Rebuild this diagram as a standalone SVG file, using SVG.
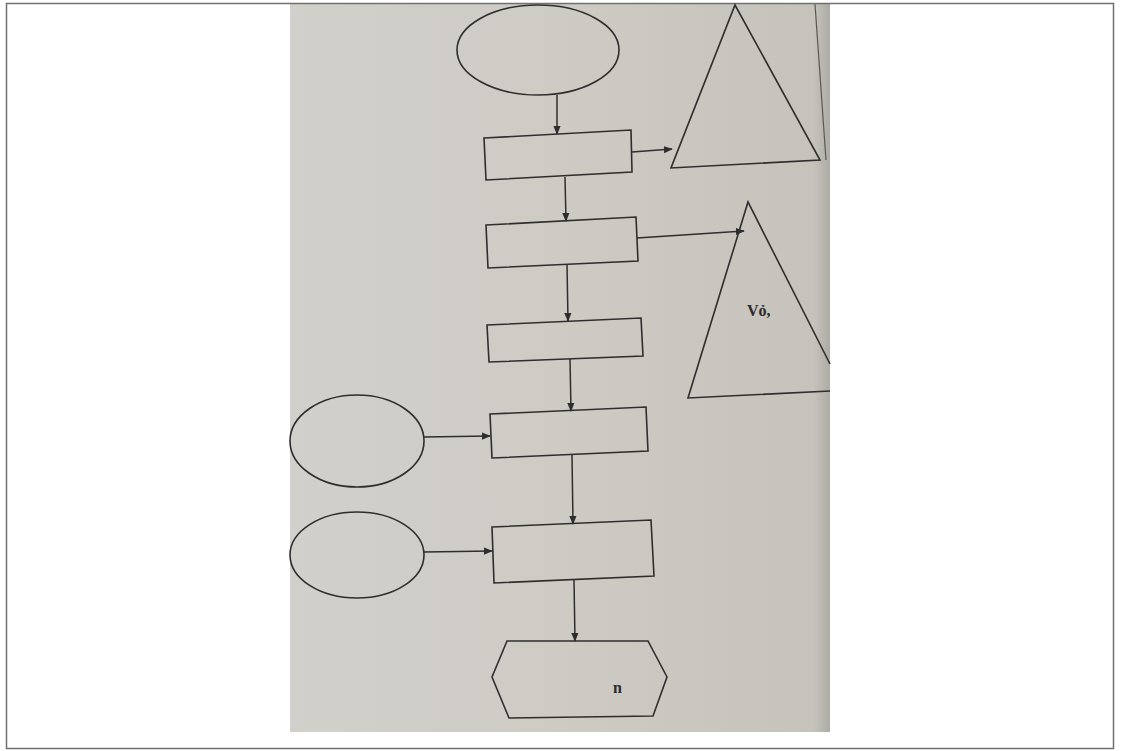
<svg xmlns="http://www.w3.org/2000/svg" width="1122" height="751" viewBox="0 0 1122 751">
<defs>
<linearGradient id="paper" x1="0" y1="0" x2="1" y2="0">
<stop offset="0" stop-color="#d2d0cb"/>
<stop offset="0.5" stop-color="#cecbc5"/>
<stop offset="0.97" stop-color="#c6c2bc"/>
<stop offset="1" stop-color="#aeaba4"/>
</linearGradient>
<marker id="ah" viewBox="0 0 10 10" refX="9" refY="5" markerWidth="9" markerHeight="9" orient="auto" markerUnits="userSpaceOnUse">
<path d="M0,1 L10,5 L0,9 Z" fill="#2e2e2e"/>
</marker>
<style>
.sh{fill:none;stroke:#2e2e2e;stroke-width:1.6}
.cn{fill:none;stroke:#2e2e2e;stroke-width:1.5;marker-end:url(#ah)}
.lb{font-family:"Liberation Serif",serif;font-weight:bold;font-size:16px;fill:#2a2a2a}
</style>
</defs>
<rect x="0" y="0" width="1122" height="751" fill="#ffffff"/>
<rect x="290" y="4" width="540" height="728" fill="url(#paper)"/>
<line x1="815" y1="4" x2="826" y2="160" stroke="#5a5855" stroke-width="1.2"/>
<rect x="6.5" y="3.5" width="1107" height="745" fill="none" stroke="#707070" stroke-width="1.5"/>

<g id="start"><ellipse class="sh" cx="538" cy="50" rx="81" ry="45"/></g>
<g id="box1"><polygon class="sh" points="484,138 631,130 632,172 486,180"/></g>
<g id="tri1"><polygon class="sh" points="735,5 820,160 671,168"/></g>
<g id="box2"><polygon class="sh" points="486,225 636,217 638,261 488,268"/></g>
<g id="tri2"><polyline class="sh" points="830,364 748,202 688,398 830,391"/><text class="lb" x="747" y="316">Vỏ,</text></g>
<g id="box3"><polygon class="sh" points="487,325 641,318 643,356 489,362"/></g>
<g id="ell1"><ellipse class="sh" cx="357" cy="441" rx="67" ry="46"/></g>
<g id="box4"><polygon class="sh" points="490,414 646,407 648,451 492,458"/></g>
<g id="ell2"><ellipse class="sh" cx="357" cy="555" rx="67" ry="43"/></g>
<g id="box5"><polygon class="sh" points="492,527 651,520 654,576 494,583"/></g>
<g id="end"><polygon class="sh" points="507,641 648,641 667,677 653,716 509,718 492,677"/><text class="lb" x="613" y="693">n</text></g>

<g id="connectors">
<line class="cn" x1="557" y1="95" x2="557" y2="134"/>
<line class="cn" x1="632" y1="152" x2="672" y2="149"/>
<line class="cn" x1="565" y1="177" x2="566" y2="221"/>
<line class="cn" x1="637" y1="238" x2="744" y2="231"/>
<line class="cn" x1="567" y1="265" x2="568" y2="321"/>
<line class="cn" x1="570" y1="359" x2="571" y2="411"/>
<line class="cn" x1="424" y1="437" x2="490" y2="436"/>
<line class="cn" x1="572" y1="455" x2="573" y2="524"/>
<line class="cn" x1="424" y1="552" x2="492" y2="551"/>
<line class="cn" x1="574" y1="580" x2="575" y2="641"/>
</g>
</svg>
